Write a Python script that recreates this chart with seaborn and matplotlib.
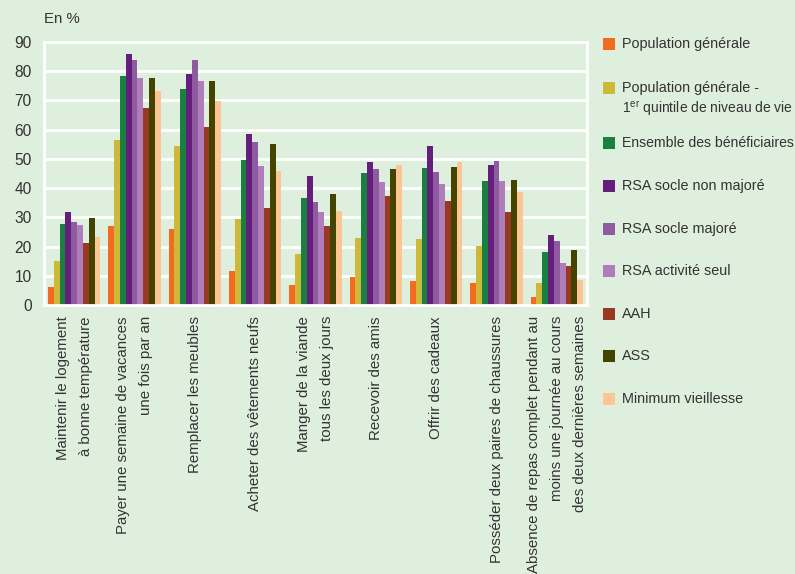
import matplotlib
matplotlib.use("Agg")
import matplotlib.pyplot as plt
from matplotlib.patches import Rectangle
import seaborn as sns
import pandas as pd

categories = [
    "Maintenir le logement\nà bonne température",
    "Payer une semaine de vacances\nune fois par an",
    "Remplacer les meubles",
    "Acheter des vêtements neufs",
    "Manger de la viande\ntous les deux jours",
    "Recevoir des amis",
    "Offrir des cadeaux",
    "Posséder deux paires de chaussures",
    "Absence de repas complet pendant au\nmoins une journée au cours\ndes deux dernières semaines",
]

series = [
    "Population générale",
    "Population générale -",
    "Ensemble des bénéficiaires",
    "RSA socle non majoré",
    "RSA socle majoré",
    "RSA activité seul",
    "AAH",
    "ASS",
    "Minimum vieillesse",
]
series_line2 = {1: "1$^{\\mathrm{er}}$ quintile de niveau de vie"}

pop_generale = [6.3, 27.0, 26.0, 11.6, 6.8, 9.6, 8.2, 7.5, 2.7]
pop_q1 = [15.0, 56.4, 54.3, 29.4, 17.4, 22.9, 22.5, 20.2, 7.5]
ensemble = [27.7, 78.2, 73.8, 49.5, 36.6, 45.1, 46.8, 42.4, 18.1]
rsa_non_majore = [31.8, 85.8, 78.9, 58.4, 44.1, 48.9, 54.3, 47.8, 23.9]
rsa_majore = [28.4, 83.7, 83.7, 55.7, 35.2, 46.5, 45.4, 49.2, 21.9]
rsa_activite = [27.3, 77.6, 76.5, 47.5, 31.8, 42.0, 41.3, 42.4, 14.4]
aah = [21.2, 67.3, 60.8, 33.1, 27.0, 37.2, 35.5, 31.8, 13.3]
ass = [29.7, 77.6, 76.5, 55.0, 37.9, 46.5, 47.2, 42.7, 18.8]
min_vieillesse = [23.2, 73.1, 69.7, 45.8, 32.1, 47.8, 48.9, 38.6, 8.5]

values = [pop_generale, pop_q1, ensemble, rsa_non_majore, rsa_majore,
          rsa_activite, aah, ass, min_vieillesse]

colors = ["#F26B21", "#CDB83A", "#1A8041", "#651E7B", "#8E5BA0",
          "#B07DBB", "#983A21", "#444400", "#FCC594"]

rows = []
for s, vals in zip(series, values):
    for c, v in zip(categories, vals):
        rows.append({"cat": c, "serie": s, "val": v})
df = pd.DataFrame(rows)

bg = "#DFEFDD"
txt = "#333333"
sns.set_theme(style="white")
plt.rcParams["font.family"] = ["Liberation Sans", "DejaVu Sans"]
plt.rcParams["mathtext.fontset"] = "custom"
plt.rcParams["mathtext.rm"] = "Liberation Sans"
plt.rcParams["mathtext.it"] = "Liberation Sans:italic"

W, H = 795, 574
fig = plt.figure(figsize=(W / 100, H / 100), dpi=100, facecolor=bg)
ax = fig.add_axes([44 / W, 1 - 305 / H, (587 - 44) / W, (305 - 42) / H])
ax.set_facecolor(bg)

sns.barplot(data=df, x="cat", y="val", hue="serie", order=categories,
            hue_order=series, palette=colors, width=0.87, saturation=1,
            gap=0, ax=ax, errorbar=None, linewidth=0, legend=False)

ax.set_ylim(0, 90)
ax.set_xlim(-0.5, len(categories) - 0.5)
ax.set_yticks(range(0, 91, 10))
ax.set_yticklabels([str(v) for v in range(0, 91, 10)], fontsize=11.2)
ax.yaxis.grid(True, color="white", linewidth=2)
ax.set_axisbelow(True)
for sp in ax.spines.values():
    sp.set_color("white")
    sp.set_linewidth(2)
ax.set_xlabel("")
ax.set_ylabel("")
ax.set_xticks(range(len(categories)))
ax.set_xticklabels(categories, rotation=90, ha="center", va="top",
                   multialignment="right", linespacing=1.8, fontsize=10.8)
ax.tick_params(axis="both", length=0, colors=txt)
ax.tick_params(axis="y", pad=9)
ax.tick_params(axis="x", pad=8)

# legend (drawn manually to follow the reference layout)
leg_y = [44, 88, 143, 186, 229, 271, 314, 356, 399]
leg_size = {2: 10.1}
sq = 12
for i, (lab, col, yc) in enumerate(zip(series, colors, leg_y)):
    fig.add_artist(Rectangle((603 / W, 1 - (yc + sq / 2) / H), sq / W, sq / H,
                             transform=fig.transFigure, facecolor=col,
                             edgecolor="none"))
    fig.text(622 / W, 1 - yc / H, lab, fontsize=leg_size.get(i, 10.4),
             color=txt, ha="left", va="center")
    if i in series_line2:
        fig.text(622 / W, 1 - (yc + 21) / H, series_line2[i], fontsize=10.0,
                 color=txt, ha="left", va="center")

fig.text(44 / W, 1 - 19 / H, "En %", fontsize=10.8, color=txt,
         ha="left", va="center")

fig.savefig("out.png", dpi=100, facecolor=bg)
